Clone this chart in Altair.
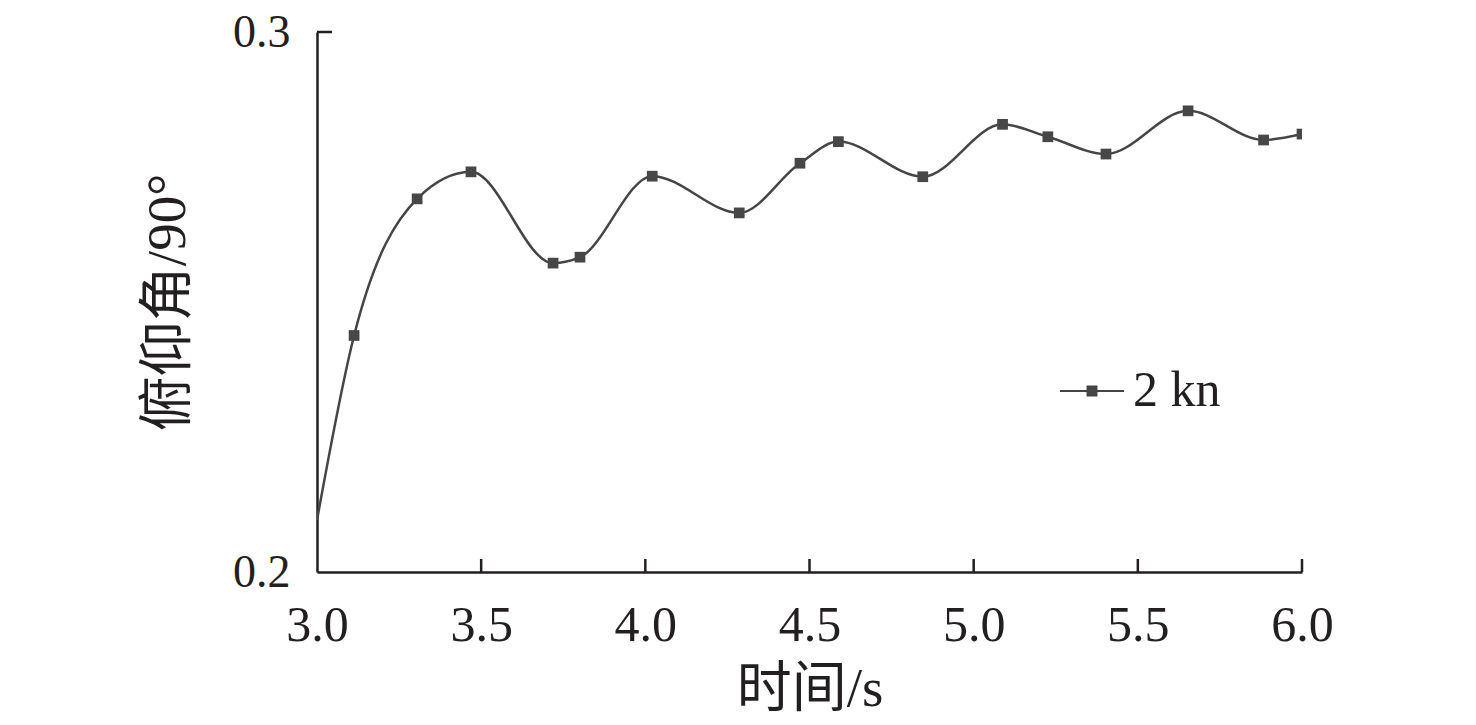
import altair as alt
import pandas as pd

# marker points (time in s, pitch angle / 90°)
marker_x = [3.113, 3.305, 3.469, 3.719, 3.801, 4.021, 4.286, 4.471, 4.588,
            4.845, 5.088, 5.226, 5.403, 5.653, 5.883, 6.0]
marker_y = [0.2438, 0.2691, 0.2741, 0.2572, 0.2583, 0.2733, 0.2665, 0.2757,
            0.2797, 0.2732, 0.2829, 0.2806, 0.2774, 0.2854, 0.2800, 0.2811]
# curve start (no marker)
start_x = [3.0]
start_y = [0.2096]

x_ticks = [3.0, 3.5, 4.0, 4.5, 5.0, 5.5, 6.0]
y_ticks = [0.2, 0.3]
series_name = "2 kn"

FONT = "Liberation Serif, Noto Sans CJK SC"
INK = "#231f20"
LINE = "#454545"

line_df = pd.DataFrame({"t": start_x + marker_x, "v": start_y + marker_y})
pts_df = pd.DataFrame({"t": marker_x, "v": marker_y, "s": [series_name] * len(marker_x)})
xt_df = pd.DataFrame({"t": x_ticks[1:]})
yt_df = pd.DataFrame({"v": y_ticks[1:]})

W, H = 985, 540

xs = alt.Scale(domain=[3.0, 6.0], nice=False, zero=False)
ys = alt.Scale(domain=[0.2, 0.3], nice=False, zero=False)

x_axis = alt.Axis(values=x_ticks, format=".1f", ticks=False, grid=False,
                  domainColor=INK, domainWidth=2.5, labelFont=FONT, labelFontSize=50,
                  labelColor=INK, labelPadding=28, labelFlush=False,
                  title="时间/s", titleFont=FONT, titleFontSize=55, titleFontWeight="normal",
                  titleColor=INK, titleX=W / 2, titleY=116, titleAlign="center",
                  titleBaseline="middle")
y_axis = alt.Axis(values=y_ticks, format=".1f", ticks=False, grid=False,
                  domainColor=INK, domainWidth=2.5, labelFont=FONT, labelFontSize=46,
                  labelColor=INK, labelPadding=27, labelFlush=False,
                  title="俯仰角/90°", titleFont=FONT, titleFontSize=55, titleFontWeight="normal",
                  titleColor=INK, titleX=-150, titleY=H / 2, titleAngle=270,
                  titleAlign="center", titleBaseline="middle")

line = alt.Chart(line_df).mark_line(
    interpolate="monotone", color=LINE, strokeWidth=2.5, clip=True
).encode(
    x=alt.X("t:Q", scale=xs, axis=x_axis),
    y=alt.Y("v:Q", scale=ys, axis=y_axis),
)

legend_symbol = ("M-1,0L-0.16,0M0.16,0L1,0"
                 "M-0.14,-0.14L0.14,-0.14L0.14,0.14L-0.14,0.14Z")

points = alt.Chart(pts_df).mark_point(
    shape="square", filled=True, size=115, opacity=1, clip=True
).encode(
    x=alt.X("t:Q", scale=xs),
    y=alt.Y("v:Q", scale=ys),
    color=alt.Color("s:N", scale=alt.Scale(range=["#474747"]),
                    legend=alt.Legend(title=None, orient="none", legendX=742, legendY=326,
                                      symbolType=legend_symbol, symbolSize=4096,
                                      symbolStrokeColor=LINE, symbolStrokeWidth=2,
                                      symbolFillColor="#474747",
                                      labelFont=FONT, labelFontSize=50, labelColor=INK,
                                      labelOffset=8)),
)

xticks = alt.Chart(xt_df).mark_rule(color=INK, strokeWidth=2.5).encode(
    x=alt.X("t:Q", scale=xs), y=alt.value(H), y2=alt.value(H - 13)
)
yticks = alt.Chart(yt_df).mark_rule(color=INK, strokeWidth=2.5).encode(
    y=alt.Y("v:Q", scale=ys), x=alt.value(0), x2=alt.value(15)
)

chart = alt.layer(line, points, xticks, yticks).properties(
    width=W, height=H,
    background="white",
    autosize=alt.AutoSizeParams(type="none"),
    padding={"left": 309, "top": 24, "right": 160, "bottom": 150},
).configure_view(stroke=None, strokeWidth=0)

chart.save("out.html", embed_options={"renderer": "svg", "actions": False})
